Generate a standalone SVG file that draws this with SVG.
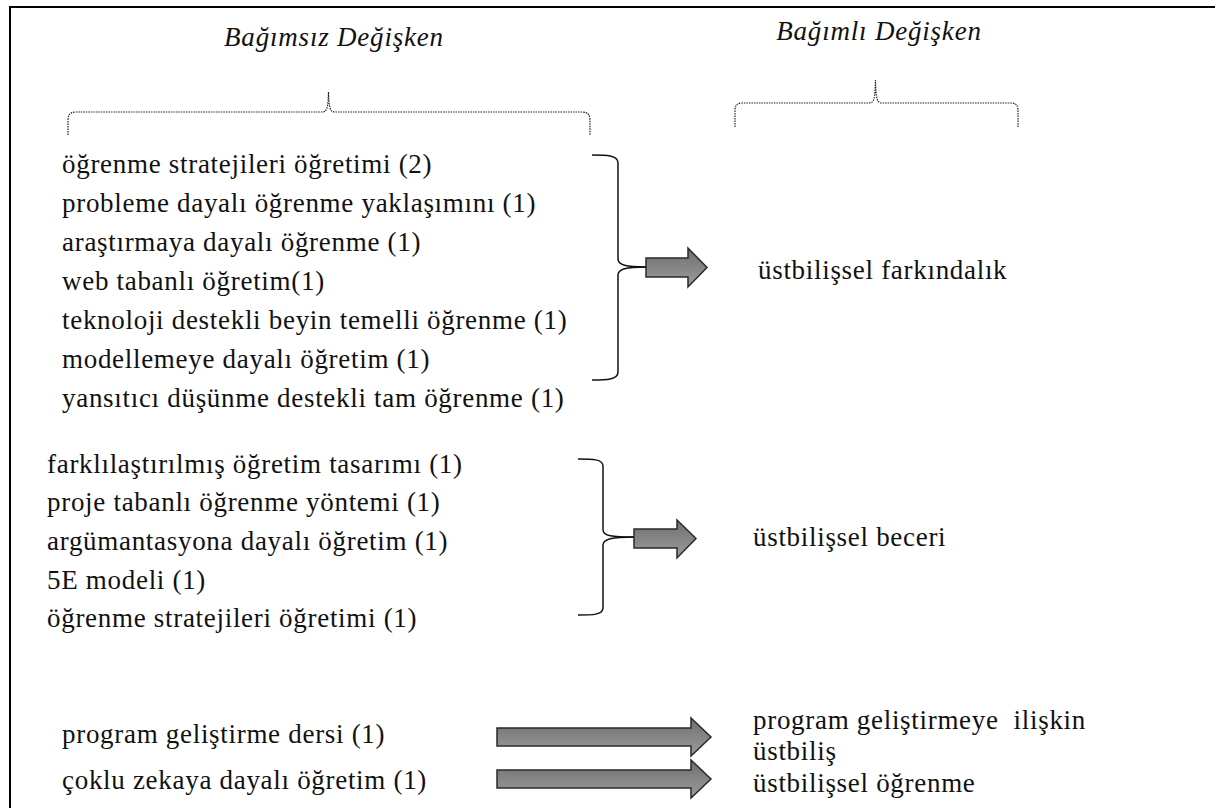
<svg xmlns="http://www.w3.org/2000/svg" width="1215" height="808" viewBox="0 0 1215 808">
  <style>
    .t { font-family: "Liberation Serif", "DejaVu Serif", serif; font-size: 27px; letter-spacing: 0.7px; fill: #111; }
    .ti { font-family: "Liberation Serif", "DejaVu Serif", serif; font-size: 27px; letter-spacing: 0.8px; font-style: italic; fill: #111; }
    .brace { fill: none; stroke: #111; stroke-width: 1.5; }
    .dotbrace { fill: none; stroke: #222; stroke-width: 1.2; stroke-dasharray: 1.5 1; }
    .arrow { fill: url(#arrowFill); stroke: #2a2a2a; stroke-width: 1.5; stroke-linejoin: miter; }
  </style>
  <defs>
    <linearGradient id="arrowFill" x1="0" y1="0" x2="0" y2="1">
      <stop offset="0" stop-color="#6f6f6f"/>
      <stop offset="1" stop-color="#9c9c9c"/>
    </linearGradient>
  </defs>

  <rect width="1215" height="808" fill="#fff"/>
  <!-- frame -->
  <path d="M10,808 V7 H1215" fill="none" stroke="#000" stroke-width="2"/>

  <!-- headers -->
  <g id="header-independent">
    <text class="ti" x="334" y="46" text-anchor="middle">Bağımsız Değişken</text>
    <path class="dotbrace" d="M68,135 V120 Q68,112 76,112 H322 C327,112 328,108 328.5,92 C329,108 330,112 335,112 H582 Q590,112 590,120 V135"/>
  </g>
  <g id="header-dependent">
    <text class="ti" x="879" y="40" text-anchor="middle">Bağımlı Değişken</text>
    <path class="dotbrace" d="M735,127 V110 Q735,103 742,103 H869 C874,103 875,99 875.5,80 C876,99 877,103 882,103 H1011 Q1018,103 1018,110 V127"/>
  </g>

  <!-- group 1: metacognitive awareness -->
  <g id="group-awareness">
    <text class="t" x="62" y="173">öğrenme stratejileri öğretimi (2)</text>
    <text class="t" x="62" y="212">probleme dayalı öğrenme yaklaşımını (1)</text>
    <text class="t" x="62" y="251">araştırmaya dayalı öğrenme (1)</text>
    <text class="t" x="62" y="290">web tabanlı öğretim(1)</text>
    <text class="t" x="62" y="329">teknoloji destekli beyin temelli öğrenme (1)</text>
    <text class="t" x="62" y="368">modellemeye dayalı öğretim (1)</text>
    <text class="t" x="62" y="407">yansıtıcı düşünme destekli tam öğrenme (1)</text>
  </g>
  <g id="result-awareness">
    <text class="t" x="758" y="279">üstbilişsel farkındalık</text>
  </g>

  <!-- group 2: metacognitive skill -->
  <g id="group-skill">
    <text class="t" x="47" y="473">farklılaştırılmış öğretim tasarımı (1)</text>
    <text class="t" x="47" y="511">proje tabanlı öğrenme yöntemi (1)</text>
    <text class="t" x="47" y="550">argümantasyona dayalı öğretim (1)</text>
    <text class="t" x="47" y="589">5E modeli (1)</text>
    <text class="t" x="47" y="627">öğrenme stratejileri öğretimi (1)</text>
  </g>
  <g id="result-skill">
    <text class="t" x="753" y="546">üstbilişsel beceri</text>
  </g>

  <!-- single items -->
  <g id="item-program">
    <text class="t" x="62" y="743">program geliştirme dersi (1)</text>
  </g>
  <g id="result-program">
    <text class="t" x="753" y="729" style="white-space:pre">program geliştirmeye  ilişkin</text>
    <text class="t" x="753" y="760">üstbiliş</text>
  </g>
  <g id="item-multiple">
    <text class="t" x="62" y="789">çoklu zekaya dayalı öğretim (1)</text>
  </g>
  <g id="result-multiple">
    <text class="t" x="753" y="792">üstbilişsel öğrenme</text>
  </g>

  <!-- connectors -->
  <g id="connectors">
    <path class="brace" d="M592,155 C606,155 618,155 618,163 V259 C618,265 626,267 646,267"/>
    <path class="brace" d="M646,267 C626,267 618,269 618,275 V372 C618,380 606,380 592,380"/>
    <path class="arrow" d="M646,258 H688 V248 L707,267.5 L688,287 V277 H646 Z"/>

    <path class="brace" d="M578,459 C592,459 603,459 603,466 V530 C603,536 612,537 634,537"/>
    <path class="brace" d="M634,537 C612,537 603,539 603,545 V608 C603,615 592,615 578,615"/>
    <path class="arrow" d="M634,529 H677 V520 L696,538.5 L677,558 V548 H634 Z"/>

    <path class="arrow" d="M497,728 H691 V718 L711,737 L691,756 V746 H497 Z"/>
    <path class="arrow" d="M497,770 H691 V760 L711,779 L691,798 V788 H497 Z"/>
  </g>
</svg>
